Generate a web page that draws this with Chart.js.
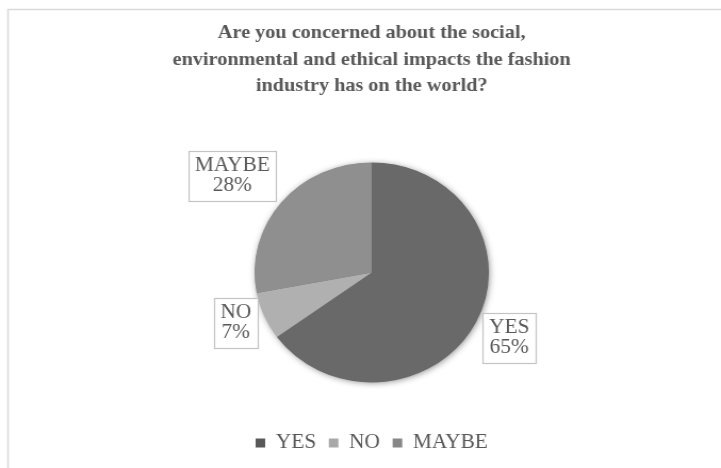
<!DOCTYPE html>
<html>
<head>
<meta charset="utf-8">
<script src="https://cdn.jsdelivr.net/npm/chart.js@4"></script>
<style>
  html, body { margin: 0; padding: 0; background: #ffffff; overflow: hidden; }
  /* the chart is drawn slightly narrow and widened horizontally */
  #wrap { position: relative; width: 677px; height: 468px; transform: scaleX(1.065); transform-origin: 0 0; }
</style>
</head>
<body>
<div id="wrap"><canvas id="c" width="677" height="468"></canvas></div>
<script>
// Survey answers, share of respondents in percent
const categories = ['YES', 'NO', 'MAYBE'];
const shares = [65, 7, 28];
const titleLines = [
  'Are you concerned about the social,',
  'environmental and ethical impacts the fashion',
  'industry has on the world?'
];

// [top shade, bottom shade] for each slice
const sliceShades = [['#696969', '#535353'], ['#b0b0b0', '#a0a0a0'], ['#8f8f8f', '#838383']];
const legendColors = ['#595959', '#a8a8a8', '#878787'];
const textColor = '#595959';
const serif = "'Liberation Serif', 'Times New Roman', serif";
// label box placement: distance beyond the pie edge, plus a small nudge
const labelGap = [35, 29, 52];
const labelNudge = [[0, 0], [0, -5], [-6, 7]];

function sliceFill(ctx) {
  const i = ctx.dataIndex;
  const arc = ctx.element;
  if (!arc || !arc.outerRadius) return sliceShades[i][0];
  const g = ctx.chart.ctx.createLinearGradient(0, arc.y - arc.outerRadius, 0, arc.y + arc.outerRadius);
  g.addColorStop(0, sliceShades[i][0]);
  g.addColorStop(1, sliceShades[i][1]);
  return g;
}

// light frame around the chart
const framePlugin = {
  id: 'frame',
  beforeDraw(chart) {
    const ctx = chart.ctx;
    ctx.save();
    ctx.fillStyle = '#ffffff';
    ctx.fillRect(0, 0, chart.width, chart.height);
    ctx.strokeStyle = '#d9d9d9';
    ctx.lineWidth = 1.5;
    ctx.strokeRect(7.5, 9.5, chart.width + 20, chart.height + 20);
    ctx.restore();
  }
};

// soft shadow under the whole pie
const pieShadow = {
  id: 'pieShadow',
  beforeDatasetsDraw(chart) {
    const arc = chart.getDatasetMeta(0).data[0];
    if (!arc) return;
    const ctx = chart.ctx;
    ctx.save();
    ctx.shadowColor = 'rgba(0,0,0,0.45)';
    ctx.shadowBlur = 6;
    ctx.shadowOffsetX = 1;
    ctx.shadowOffsetY = 1;
    ctx.fillStyle = '#777777';
    ctx.beginPath();
    ctx.arc(arc.x, arc.y, arc.outerRadius - 0.5, 0, Math.PI * 2);
    ctx.fill();
    ctx.restore();
  }
};

// boxed category / percent labels outside the slices
const boxLabels = {
  id: 'boxLabels',
  afterDatasetsDraw(chart) {
    const ctx = chart.ctx;
    const meta = chart.getDatasetMeta(0);
    const values = chart.data.datasets[0].data;
    const total = values.reduce((a, b) => a + b, 0);
    ctx.save();
    ctx.font = '20px ' + serif;
    ctx.textAlign = 'center';
    ctx.textBaseline = 'middle';
    meta.data.forEach((arc, i) => {
      const mid = (arc.startAngle + arc.endAngle) / 2;
      const d = arc.outerRadius + labelGap[i];
      const cx = arc.x + Math.cos(mid) * d + labelNudge[i][0];
      const cy = arc.y + Math.sin(mid) * d + labelNudge[i][1];
      const lines = [chart.data.labels[i], Math.round(values[i] / total * 100) + '%'];
      const w = Math.round(Math.max(...lines.map(t => ctx.measureText(t).width)) + 12);
      const lh = 20;
      const h = 50;
      const x0 = Math.round(cx - w / 2), y0 = Math.round(cy - h / 2);
      ctx.fillStyle = '#ffffff';
      ctx.fillRect(x0, y0, w, h);
      ctx.strokeStyle = '#c4c4c4';
      ctx.lineWidth = 1.2;
      ctx.strokeRect(x0 + 0.5, y0 + 0.5, w, h);
      ctx.fillStyle = textColor;
      lines.forEach((t, k) => {
        ctx.fillText(t, cx, y0 + 4 + lh * k + lh / 2 + 1);
      });
    });
    ctx.restore();
  }
};

new Chart(document.getElementById('c'), {
  type: 'pie',
  data: {
    labels: categories,
    datasets: [{
      data: shares,
      backgroundColor: sliceFill,
      borderWidth: 0,
      radius: 110
    }]
  },
  plugins: [framePlugin, pieShadow, boxLabels],
  options: {
    responsive: false,
    animation: false,
    layout: { padding: { left: 21, right: 0, top: 0, bottom: 5 } },
    plugins: {
      title: {
        display: true,
        text: titleLines,
        color: textColor,
        font: { family: serif, size: 19, weight: 'bold', lineHeight: 1.4 },
        padding: { top: 20, bottom: 24 }
      },
      legend: {
        position: 'bottom',
        labels: {
          color: textColor,
          font: { family: serif, size: 20 },
          boxWidth: 9,
          boxHeight: 9,
          padding: 12,
          generateLabels(chart) {
            return chart.data.labels.map((t, i) => ({
              text: t,
              fillStyle: legendColors[i],
              strokeStyle: legendColors[i],
              lineWidth: 0,
              fontColor: textColor,
              index: i
            }));
          }
        }
      },
      tooltip: { enabled: false }
    }
  }
});
</script>
</body>
</html>
